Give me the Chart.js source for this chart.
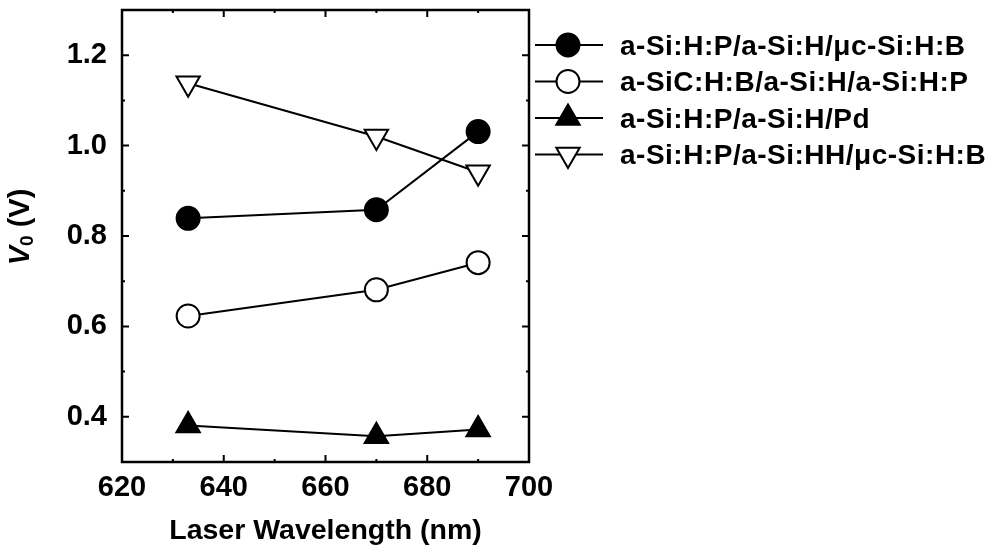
<!DOCTYPE html>
<html>
<head>
<meta charset="utf-8">
<script src="https://cdn.jsdelivr.net/npm/chart.js@4.4.1/dist/chart.umd.min.js"></script>
<style>
html, body { margin: 0; padding: 0; background: #fff; }
#wrap { width: 989px; height: 548px; }
</style>
</head>
<body>
<div id="wrap"><canvas id="chart" width="989" height="548"></canvas></div>
<script>
// data
const wavelengths = [633, 670, 690];
const seriesLabels = [
    "a-Si:H:P/a-Si:H/\u03bcc-Si:H:B",
    "a-SiC:H:B/a-Si:H/a-Si:H:P",
    "a-Si:H:P/a-Si:H/Pd",
    "a-Si:H:P/a-Si:HH/\u03bcc-Si:H:B"
];
const filledCircle = [0.839, 0.858, 1.031];
const openCircle = [0.623, 0.681, 0.741];
const filledTriangle = [0.381, 0.357, 0.372];
const openTriangle = [1.138, 1.020, 0.941];

const xMajorTicks = [620, 640, 660, 680, 700];
const xMinorTicks = [630, 650, 670, 690];
const yMajorTicks = [0.4, 0.6, 0.8, 1.0, 1.2];
const yMinorTicks = [0.3, 0.5, 0.7, 0.9, 1.1, 1.3];

const FONT = "'Liberation Sans', Arial, sans-serif";

function points(values) {
    return wavelengths.map((w, i) => ({ x: w, y: values[i] }));
}

function series(label, values, style, fill, radius, rotation) {
    return {
        label: label,
        data: points(values),
        borderColor: "#000",
        borderWidth: 2,
        tension: 0,
        pointStyle: style,
        pointRadius: radius,
        pointHoverRadius: radius,
        pointRotation: rotation || 0,
        pointBackgroundColor: fill,
        pointBorderColor: "#000",
        pointBorderWidth: 2
    };
}

const datasets = [
    series(seriesLabels[0], filledCircle, "circle", "#000", 11.5),
    series(seriesLabels[1], openCircle, "circle", "#fff", 11.5),
    series(seriesLabels[2], filledTriangle, "triangle", "#000", 13.5),
    series(seriesLabels[3], openTriangle, "triangle", "#fff", 13.5, 180)
];

// box, inward ticks on all four sides
const framePlugin = {
    id: "frame",
    afterDraw(chart) {
        const { ctx, chartArea: a, scales: { x, y } } = chart;
        ctx.save();
        ctx.strokeStyle = "#000";
        ctx.lineWidth = 2.5;
        ctx.strokeRect(a.left, a.top, a.right - a.left, a.bottom - a.top);
        ctx.lineWidth = 2;
        const xTick = (v, len) => {
            const px = x.getPixelForValue(v);
            ctx.beginPath();
            ctx.moveTo(px, a.bottom); ctx.lineTo(px, a.bottom - len);
            ctx.moveTo(px, a.top); ctx.lineTo(px, a.top + len);
            ctx.stroke();
        };
        const yTick = (v, len) => {
            const py = y.getPixelForValue(v);
            ctx.beginPath();
            ctx.moveTo(a.left, py); ctx.lineTo(a.left + len, py);
            ctx.moveTo(a.right, py); ctx.lineTo(a.right - len, py);
            ctx.stroke();
        };
        xMajorTicks.forEach(v => xTick(v, 7));
        xMinorTicks.forEach(v => xTick(v, 3));
        yMajorTicks.forEach(v => yTick(v, 7));
        yMinorTicks.forEach(v => yTick(v, 3));

        // y axis title: V0 (V)
        ctx.fillStyle = "#000";
        ctx.translate(21, 227);
        ctx.rotate(-Math.PI / 2);
        ctx.textBaseline = "middle";
        ctx.textAlign = "left";
        const big = "bold 29px " + FONT;
        const bigItalic = "italic bold 29px " + FONT;
        const small = "bold 19px " + FONT;
        ctx.font = bigItalic;
        const wV = ctx.measureText("V").width;
        ctx.font = small;
        const w0 = ctx.measureText("0").width;
        ctx.font = big;
        const wRest = ctx.measureText(" (V)").width;
        let cx = -(wV + w0 + wRest) / 2;
        ctx.font = bigItalic;
        ctx.fillText("V", cx, 0);
        cx += wV;
        ctx.font = small;
        ctx.fillText("0", cx, 7);
        cx += w0;
        ctx.font = big;
        ctx.fillText(" (V)", cx, 0);
        ctx.restore();
    }
};

// legend to the right of the plot: line with marker, then label
const legendPlugin = {
    id: "sideLegend",
    afterDraw(chart) {
        const ctx = chart.ctx;
        ctx.save();
        chart.data.datasets.forEach((ds, i) => {
            const ty = 47 + i * 36.5;
            const ly = ty - 2;
            ctx.strokeStyle = "#000";
            ctx.lineWidth = 2;
            ctx.beginPath();
            ctx.moveTo(535, ly);
            ctx.lineTo(603, ly);
            ctx.stroke();
            ctx.fillStyle = ds.pointBackgroundColor;
            Chart.helpers.drawPoint(ctx, {
                pointStyle: ds.pointStyle,
                radius: ds.pointRadius,
                rotation: ds.pointRotation,
                borderWidth: ds.pointBorderWidth
            }, 568, ly);
            ctx.fillStyle = "#000";
            ctx.font = "bold 28px " + FONT;
            ctx.letterSpacing = "0.5px";
            ctx.textBaseline = "middle";
            ctx.textAlign = "left";
            ctx.fillText(ds.label, 620, ty);
            ctx.letterSpacing = "0px";
        });
        ctx.restore();
    }
};

new Chart(document.getElementById("chart"), {
    type: "line",
    data: { datasets: datasets },
    options: {
        responsive: false,
        animation: false,
        layout: { autoPadding: false, padding: { top: 10, right: 460, left: 0, bottom: 0 } },
        plugins: {
            legend: { display: false },
            tooltip: { enabled: false }
        },
        scales: {
            x: {
                type: "linear",
                min: 620,
                max: 700,
                afterBuildTicks: (scale) => {
                    scale.ticks = xMajorTicks.map(v => ({ value: v }));
                },
                afterFit: (scale) => { scale.height = 86; },
                grid: { display: false, drawTicks: false },
                border: { display: false },
                ticks: {
                    color: "#000",
                    padding: 9,
                    maxRotation: 0,
                    font: { family: FONT, size: 29, weight: "bold" }
                },
                title: {
                    display: true,
                    text: "Laser Wavelength (nm)",
                    color: "#000",
                    padding: 0,
                    font: { family: FONT, size: 28.5, weight: "bold" }
                }
            },
            y: {
                min: 0.3,
                max: 1.3,
                afterBuildTicks: (scale) => {
                    scale.ticks = yMajorTicks.concat(yMinorTicks)
                        .sort((a, b) => a - b)
                        .map(v => ({ value: v }));
                },
                afterFit: (scale) => {
                    scale.width = 122;
                    scale.paddingTop = 0;
                    scale.paddingBottom = 0;
                },
                grid: { display: false, drawTicks: false },
                border: { display: false },
                ticks: {
                    color: "#000",
                    padding: 15,
                    font: { family: FONT, size: 29, weight: "bold" },
                    callback: (v) => yMajorTicks.includes(v) ? v.toFixed(1) : null
                }
            }
        }
    },
    plugins: [framePlugin, legendPlugin]
});
</script>
</body>
</html>
